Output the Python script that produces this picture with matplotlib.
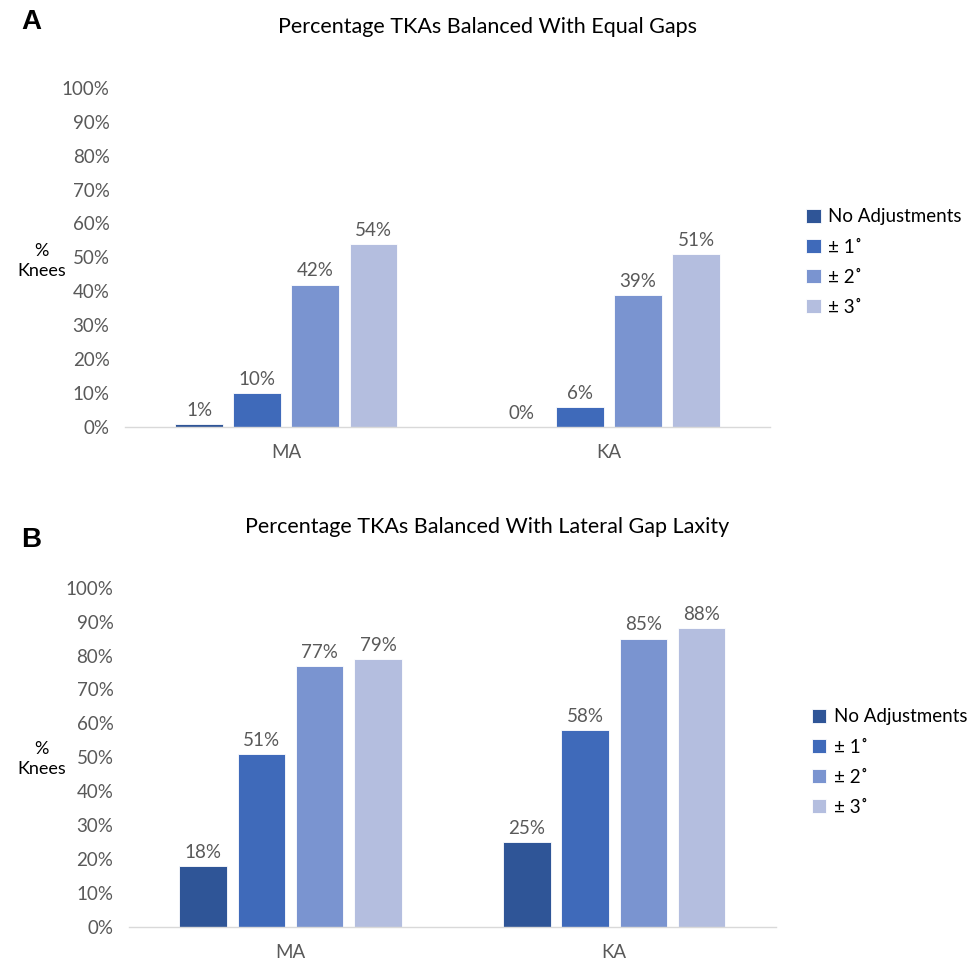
import matplotlib
matplotlib.use("Agg")
import matplotlib.pyplot as plt
import numpy as np

plt.rcParams["font.family"] = ["Lato", "DejaVu Sans"]

categories = ["MA", "KA"]
series = ["No Adjustments", "± 1˚", "± 2˚", "± 3˚"]
equal_gaps = [[1, 0], [10, 6], [42, 39], [54, 51]]
lateral_laxity = [[18, 25], [51, 58], [77, 85], [79, 88]]
yticks = list(range(0, 101, 10))

COLORS = ["#2F5597", "#3F6ABA", "#7A94D0", "#B4BEDF"]
GREY = "#595959"

fig = plt.figure(figsize=(9.75, 9.64), dpi=100)


def draw_panel(rect, values, title, letter, letter_y, title_y, label_frac):
    ax = fig.add_axes(rect)
    x = np.arange(len(categories))
    slot = 0.18
    width = 0.147
    for i, (name, vals) in enumerate(zip(series, values)):
        pos = x + (i - 1.5) * slot
        ax.bar(pos, vals, width, color=COLORS[i], edgecolor="white",
               linewidth=0.6, label=name)
        for p, v in zip(pos, vals):
            ax.text(p, v + 1.5, f"{v}%", ha="center", va="bottom",
                    fontsize=13.5, color=GREY)
    ax.set_xlim(-0.5, 1.5)
    ax.set_ylim(0, 100)
    ax.set_yticks(yticks)
    ax.set_yticklabels([f"{t}%" for t in yticks], fontsize=13.5, color=GREY)
    ax.set_xticks(x)
    ax.set_xticklabels(categories, fontsize=13.5, color=GREY)
    ax.tick_params(length=0, pad=12)
    ax.tick_params(axis="y", pad=11)
    for s in ["top", "right", "left"]:
        ax.spines[s].set_visible(False)
    ax.spines["bottom"].set_color("#D9D9D9")
    ax.spines["bottom"].set_linewidth(1)
    fig.text(0.043, rect[1] + rect[3] * label_frac, "%\nKnees", ha="center",
             va="center", fontsize=13, color="black", linespacing=1.3)
    fig.text(0.5, title_y, title, ha="center", va="center", fontsize=15.5,
             color="black")
    fig.text(0.022, letter_y, letter, ha="left", va="center", fontsize=20,
             fontweight="bold", family="Liberation Sans")
    ax.legend(loc="center left", bbox_to_anchor=(1.03, 0.486),
              frameon=False, fontsize=13.5, handlelength=0.75,
              handleheight=0.75, handletextpad=0.4, labelspacing=0.7,
              labelcolor="black")
    return ax


draw_panel([0.128, 0.557, 0.662, 0.352], equal_gaps,
           "Percentage TKAs Balanced With Equal Gaps", "A", 0.977, 0.972, 0.49)
draw_panel([0.132, 0.0384, 0.664, 0.352], lateral_laxity,
           "Percentage TKAs Balanced With Lateral Gap Laxity", "B", 0.44,
           0.453, 0.495)

fig.savefig("out.png", dpi=100, facecolor="white")
